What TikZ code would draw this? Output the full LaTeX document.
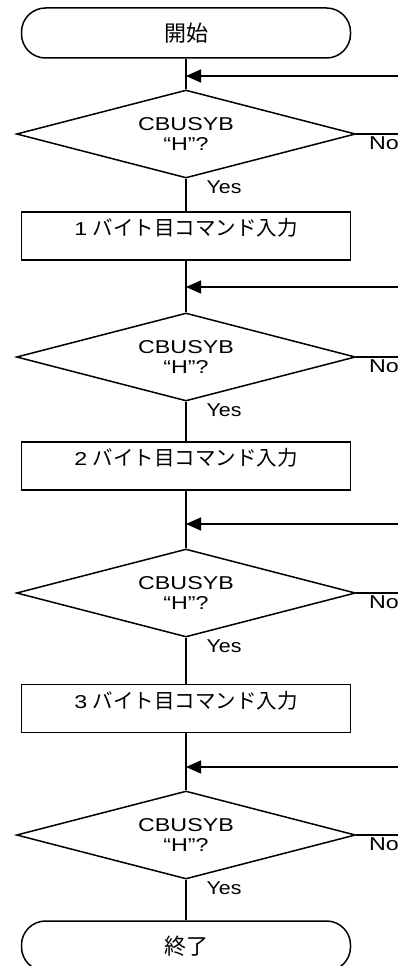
\documentclass[tikz,border=0pt]{standalone}
\usepackage{fontspec}
\setmainfont{Liberation Sans}
\newfontfamily\cjk{Noto Sans CJK JP}
\usetikzlibrary{shapes.geometric,arrows.meta}
\newcommand\wtxt[1]{\scalebox{1.25}[1]{#1}}
\begin{document}
\begin{tikzpicture}[x=1pt,y=-1pt, line width=1.5pt,
 term/.style={draw, rounded corners=24pt, minimum width=329pt, minimum height=50pt, inner sep=0pt, font=\cjk\fontsize{22}{24}\selectfont},
 dec/.style={draw, diamond, aspect=3.85, minimum width=339pt, minimum height=88pt, inner sep=0pt, align=center, font=\fontsize{18.6}{20.5}\selectfont},
 proc/.style={draw, minimum width=329pt, minimum height=48pt, inner sep=0pt},
 boxtxt/.style={yshift=8pt, inner sep=0pt, font=\fontsize{18.6}{20}\selectfont},
 lab/.style={font=\fontsize{18.6}{20}\selectfont, inner sep=0pt},
 arr/.style={-{Triangle[length=15pt,width=13pt]}}
]
\useasboundingbox (0,0) rectangle (398,966);
\clip (0,0) rectangle (398,966);

\node[term] (start) at (186,33) {開始};
\node[dec] (d1) at (186,134) {\wtxt{CBUSYB}\\\wtxt{“H”?}};
\node[proc, label={[boxtxt]center:{\wtxt{1} {\cjk\fontsize{20.5}{22}\selectfont バイト目コマンド入力}}}] (b1) at (186,236) {};
\node[dec] (d2) at (186,357) {\wtxt{CBUSYB}\\\wtxt{“H”?}};
\node[proc, label={[boxtxt]center:{\wtxt{2} {\cjk\fontsize{20.5}{22}\selectfont バイト目コマンド入力}}}] (b2) at (186,466) {};
\node[dec] (d3) at (186,593) {\wtxt{CBUSYB}\\\wtxt{“H”?}};
\node[proc, label={[boxtxt]center:{\wtxt{3} {\cjk\fontsize{20.5}{22}\selectfont バイト目コマンド入力}}}] (b3) at (186,708.5) {};
\node[dec] (d4) at (186,835) {\wtxt{CBUSYB}\\\wtxt{“H”?}};
\node[term] (end) at (186,946) {終了};

% vertical flow
\draw (start) -- (d1);
\draw (d1) -- (b1);
\draw (b1) -- (d2);
\draw (d2) -- (b2);
\draw (b2) -- (d3);
\draw (d3) -- (b3);
\draw (b3) -- (d4);
\draw (d4) -- (end);

% return arrows
\coordinate (r1) at (398,76);
\coordinate (r2) at (398,287);
\coordinate (r3) at (398,524);
\coordinate (r4) at (398,767);
\draw[arr] (r1) -- (r1 -| d1.north);
\draw[arr] (r2) -- (r2 -| d2.north);
\draw[arr] (r3) -- (r3 -| d3.north);
\draw[arr] (r4) -- (r4 -| d4.north);

% No branches
\coordinate (n1) at (398,134);
\coordinate (n2) at (398,357);
\coordinate (n3) at (398,593);
\coordinate (n4) at (398,835);
\draw (d1.east) -- (n1);
\draw (d2.east) -- (n2);
\draw (d3.east) -- (n3);
\draw (d4.east) -- (n4);

\foreach \d in {d1,d2,d3,d4}{
  \node[lab, anchor=west] (no\d) at ([shift={(12,9)}]\d.east) {\wtxt{No}};
  \node[lab] (yes\d) at ([shift={(38,8)}]\d.south) {\scalebox{1.15}[1]{Yes}};
}
\end{tikzpicture}
\end{document}
